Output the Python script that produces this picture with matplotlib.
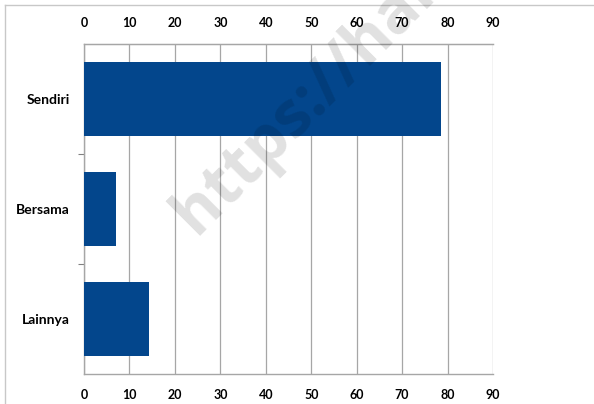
import matplotlib
matplotlib.use("Agg")
import matplotlib.pyplot as plt
from matplotlib.lines import Line2D

categories = ["Sendiri", "Bersama", "Lainnya"]
values = [78.6, 7.1, 14.3]
xticks = [0, 10, 20, 30, 40, 50, 60, 70, 80, 90]

plt.rcParams["font.family"] = ["Lato", "DejaVu Sans"]

W, H = 594, 404
fig = plt.figure(figsize=(W / 100, H / 100), dpi=100)
ax = fig.add_axes([84 / W, 1 - 374 / H, (493 - 84) / W, (374 - 44) / H])
ax.set_zorder(2)

# outer frame edges
fig.add_artist(Line2D([5 / W, 5 / W], [0, 1 - 5 / H], transform=fig.transFigure, color="#c8c8c8", lw=1))
fig.add_artist(Line2D([5 / W, 1], [1 - 5 / H, 1 - 5 / H], transform=fig.transFigure, color="#c8c8c8", lw=1))

# translucent watermark over the plot
wm = fig.text(304 / W, 1 - 104 / H, "https://hal", transform=fig.transFigure, rotation=45,
              fontsize=46, fontweight="bold", color="black", alpha=0.12, ha="center", va="center",
              family=["Open Sans", "DejaVu Sans"])
wm.set_zorder(5)

ypos = range(len(categories))
ax.barh(ypos, values, height=0.67, color="#03468c", zorder=3)
ax.set_ylim(2.5, -0.5)
ax.set_xlim(0, 90)
ax.set_xticks(xticks)
ax.set_xticklabels([str(t) for t in xticks], fontweight="bold", fontsize=9)
ax.tick_params(axis="x", which="both", bottom=False, top=False, labelbottom=True, pad=7)

top = ax.secondary_xaxis("top")
top.set_xticks(xticks)
top.set_xticklabels([str(t) for t in xticks], fontweight="bold", fontsize=9)
top.tick_params(axis="x", length=0, pad=10.5)
top.spines["top"].set_color("#a6a6a6")

ax.set_yticks(list(ypos))
ax.set_yticklabels(categories, fontweight="bold", fontsize=10)
ax.tick_params(axis="y", which="major", length=0, pad=10)
ax.set_yticks([0.5, 1.5], minor=True)
ax.tick_params(axis="y", which="minor", length=4, color="#808080", width=0.8)

ax.grid(axis="x", color="#a6a6a6", lw=0.9, zorder=0)
ax.set_axisbelow(True)
for side in ["top", "bottom", "left"]:
    ax.spines[side].set_color("#a6a6a6")
    ax.spines[side].set_linewidth(1.0)
ax.spines["right"].set_visible(False)
ax.patch.set_alpha(0)

fig.savefig("out.png", dpi=100)
